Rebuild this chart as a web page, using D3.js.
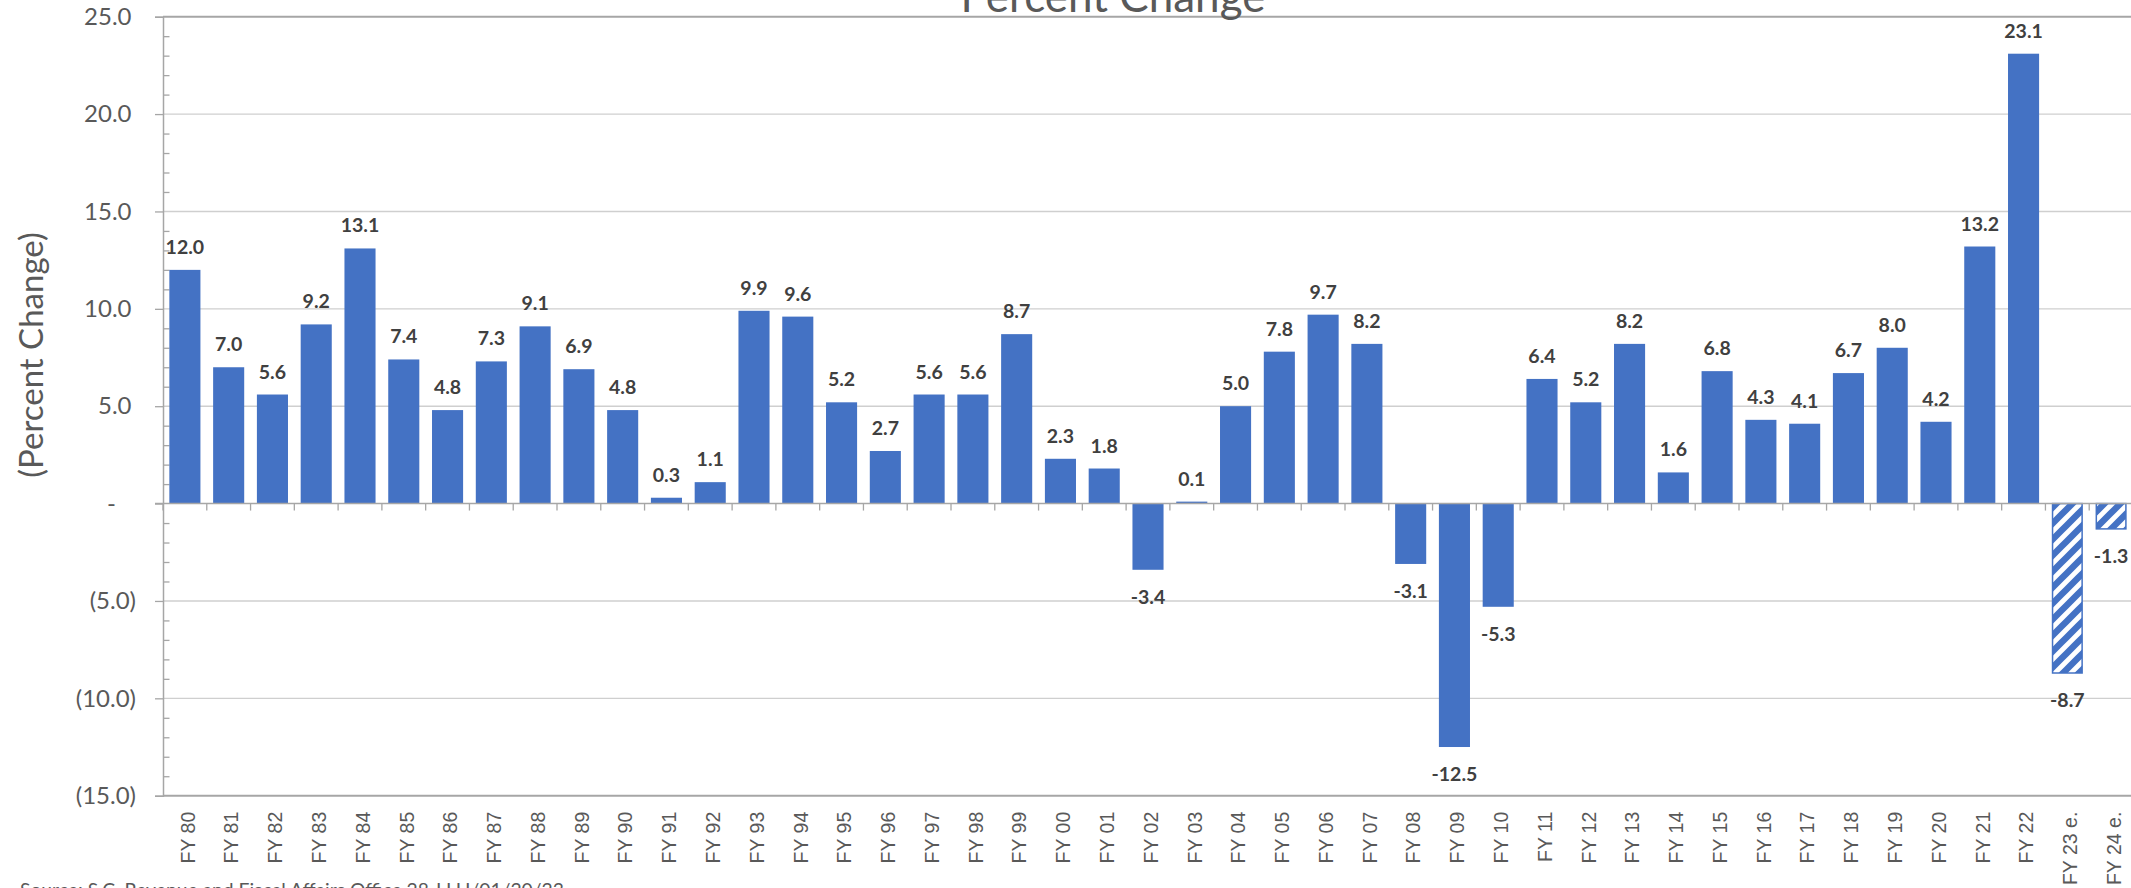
<!DOCTYPE html>
<html>
<head>
<meta charset="utf-8">
<script src="https://cdn.jsdelivr.net/npm/d3@7"></script>
<style>
  html, body { margin: 0; padding: 0; background: #fff; overflow: hidden; }
  svg { display: block; }
</style>
</head>
<body>
<svg id="chart" width="2131" height="888"></svg>
<script>
// Fiscal years shown on the category axis
const years = [
  "FY 80", "FY 81", "FY 82", "FY 83", "FY 84", "FY 85", "FY 86", "FY 87", "FY 88", "FY 89",
  "FY 90", "FY 91", "FY 92", "FY 93", "FY 94", "FY 95", "FY 96", "FY 97", "FY 98", "FY 99",
  "FY 00", "FY 01", "FY 02", "FY 03", "FY 04", "FY 05", "FY 06", "FY 07", "FY 08", "FY 09",
  "FY 10", "FY 11", "FY 12", "FY 13", "FY 14", "FY 15", "FY 16", "FY 17", "FY 18", "FY 19",
  "FY 20", "FY 21", "FY 22", "FY 23 e.", "FY 24 e."
];

// Year-over-year percent change
const pctChange = [
  12.0, 7.0, 5.6, 9.2, 13.1, 7.4, 4.8, 7.3, 9.1, 6.9,
  4.8, 0.3, 1.1, 9.9, 9.6, 5.2, 2.7, 5.6, 5.6, 8.7,
  2.3, 1.8, -3.4, 0.1, 5.0, 7.8, 9.7, 8.2, -3.1, -12.5,
  -5.3, 6.4, 5.2, 8.2, 1.6, 6.8, 4.3, 4.1, 6.7, 8.0,
  4.2, 13.2, 23.1, -8.7, -1.3
];

// Years that are estimates (drawn hatched)
const estimatedYears = ["FY 23 e.", "FY 24 e."];

// Value-axis ticks
const yTickValues = [-15, -10, -5, 0, 5, 10, 15, 20, 25];
const yMinorTickValues = d3.range(-15, 26, 1).filter(v => v % 5 !== 0);

const chartTitle = "Percent Change";
const valueAxisTitle = "(Percent Change)";
const sourceNote = "Source: S.C. Revenue and Fiscal Affairs Office 28-LLH/01/20/23";

const data = years.map((yr, i) => ({ year: yr, value: pctChange[i], est: estimatedYears.includes(yr) }));

// ---- layout ----
const W = 2131, H = 888;
const plot = { left: 163, right: 2133, top: 16.7, bottom: 795.7 };
const barBlue = "#4472C4";
const textGray = "#595959";
const labelGray = "#404040";

const svg = d3.select("#chart");

// Scales
const y = d3.scaleLinear().domain([-15, 25]).range([plot.bottom, plot.top]);
const xSlot = d3.scaleBand().domain(years).range([plot.left, plot.right]).padding(0);
const x = d3.scaleBand().domain(years).range([plot.left, plot.right])
  .paddingInner(0.29).paddingOuter(0.145);
const y0 = y(0);

// Hatch pattern for estimates
const defs = svg.append("defs");
const hatch = defs.append("pattern")
  .attr("id", "estimateHatch")
  .attr("patternUnits", "userSpaceOnUse")
  .attr("width", 16).attr("height", 16);
hatch.append("rect").attr("width", 16).attr("height", 16).attr("fill", "#fff");
hatch.append("path")
  .attr("d", "M-4,4 L4,-4 M0,16 L16,0 M12,20 L20,12")
  .attr("stroke", barBlue).attr("stroke-width", 6.5);

// Horizontal gridlines
svg.append("g").attr("class", "grid")
  .selectAll("line")
  .data(yTickValues.filter(v => v !== 0))
  .join("line")
  .attr("x1", plot.left).attr("x2", W)
  .attr("y1", d => y(d)).attr("y2", d => y(d))
  .attr("stroke", d => (d === 25 || d === -15) ? "#a6a6a6" : "#cfcfcf")
  .attr("stroke-width", d => (d === 25 || d === -15) ? 2 : 1.4);

// Value axis (major ticks outside, labels)
const fmt = v => v === 0 ? "-" : (v < 0 ? "(" + (-v).toFixed(1) + ")" : v.toFixed(1));
const yAxisG = svg.append("g")
  .attr("transform", `translate(${plot.left},0)`)
  .call(d3.axisLeft(y).tickValues(yTickValues).tickSize(8).tickPadding(19).tickFormat(fmt));
yAxisG.select(".domain").attr("stroke", "#a6a6a6").attr("stroke-width", 1.5);
yAxisG.selectAll(".tick line").attr("stroke", "#a6a6a6").attr("stroke-width", 1.3);
yAxisG.selectAll(".tick text")
  .attr("fill", textGray)
  .style("font-family", "Lato, 'Open Sans', sans-serif")
  .style("font-size", "24px")
  .attr("dx", d => d > 0 ? -4.5 : (d === 0 ? -20 : 0));

// Minor ticks on the inside of the value axis
const yMinorG = svg.append("g")
  .attr("transform", `translate(${plot.left},0)`)
  .call(d3.axisRight(y).tickValues(yMinorTickValues).tickSize(6.5).tickFormat(""));
yMinorG.select(".domain").remove();
yMinorG.selectAll(".tick line").attr("stroke", "#a6a6a6").attr("stroke-width", 1.3);

// Bars
svg.append("g").attr("class", "bars")
  .selectAll("rect")
  .data(data)
  .join("rect")
  .attr("x", d => d.est ? x(d.year) + 0.75 : x(d.year))
  .attr("width", d => d.est ? x.bandwidth() - 1.5 : x.bandwidth())
  .attr("y", d => Math.min(y(d.value), y0))
  .attr("height", d => Math.abs(y(d.value) - y0))
  .attr("fill", d => d.est ? "url(#estimateHatch)" : barBlue)
  .attr("stroke", d => d.est ? barBlue : "none")
  .attr("stroke-width", 1.5);

// Category axis line at zero, with tick marks between categories
svg.append("line")
  .attr("x1", plot.left - 8).attr("x2", W)
  .attr("y1", y0).attr("y2", y0)
  .attr("stroke", "#a6a6a6").attr("stroke-width", 1.5);
svg.append("g").attr("class", "cat-ticks")
  .selectAll("line")
  .data(years)
  .join("line")
  .attr("x1", d => xSlot(d)).attr("x2", d => xSlot(d))
  .attr("y1", y0).attr("y2", y0 + 7)
  .attr("stroke", "#a6a6a6").attr("stroke-width", 1.3);

// Category labels placed below the plot, rotated
const xAxisG = svg.append("g")
  .attr("transform", `translate(0,${plot.bottom})`)
  .call(d3.axisBottom(xSlot).tickSize(0).tickFormat(d => d));
xAxisG.select(".domain").remove();
xAxisG.selectAll(".tick text")
  .attr("y", 0)
  .attr("x", -16)
  .attr("dy", "0.35em")
  .attr("transform", "translate(3,0) rotate(-90)")
  .attr("text-anchor", "end")
  .attr("fill", textGray)
  .style("font-family", "'Liberation Sans', Arial, sans-serif")
  .style("font-size", "19.5px");

// Data labels
svg.append("g").attr("class", "data-labels")
  .selectAll("text")
  .data(data)
  .join("text")
  .attr("x", d => x(d.year) + x.bandwidth() / 2)
  .attr("y", d => d.value >= 0 ? y(d.value) - 16 : y(d.value) + 34)
  .attr("text-anchor", "middle")
  .attr("fill", labelGray)
  .style("font-family", "Lato, 'Open Sans', sans-serif")
  .style("font-weight", 700)
  .style("font-size", "19.5px")
  .text(d => d.value.toFixed(1));

// Chart title (partly above the visible area)
svg.append("text")
  .attr("x", 1113).attr("y", 12)
  .attr("text-anchor", "middle")
  .attr("fill", textGray)
  .style("font-family", "Lato, 'Open Sans', sans-serif")
  .style("font-size", "44px")
  .text(chartTitle);

// Value axis title
svg.append("text")
  .attr("transform", "translate(43,355) rotate(-90)")
  .attr("text-anchor", "middle")
  .attr("fill", textGray)
  .style("font-family", "Lato, 'Open Sans', sans-serif")
  .style("font-size", "33px")
  .text(valueAxisTitle);

// Source note
svg.append("text")
  .attr("x", 20).attr("y", 897)
  .attr("fill", textGray)
  .style("font-family", "Lato, 'Open Sans', sans-serif")
  .style("font-size", "19.3px")
  .text(sourceNote);
</script>
</body>
</html>
